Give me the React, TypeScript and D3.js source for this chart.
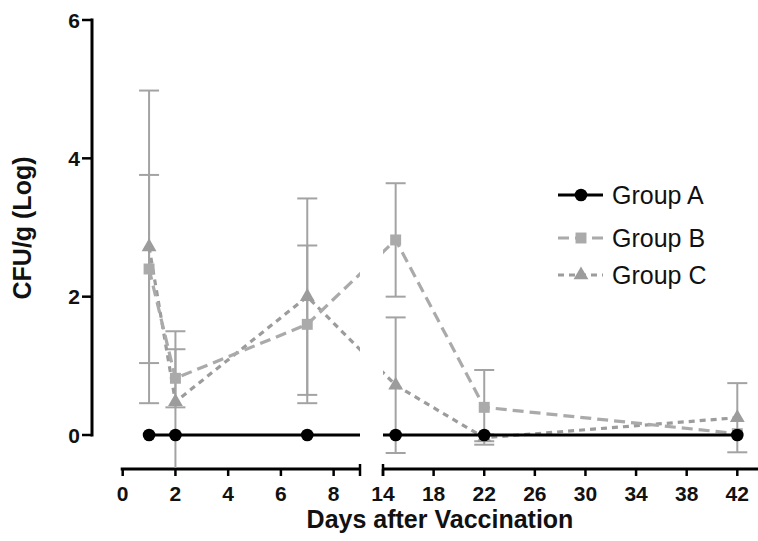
import React from 'react';
import * as d3 from 'd3';

// days sampled, split by the broken x axis
const days = [1, 2, 7, 15, 22, 42];
const groupA = [0, 0, 0, 0, 0, 0];
const groupB = [2.4, 0.82, 1.6, 2.82, 0.4, 0.02];
const groupBErr = [1.36, 0.42, 1.14, 0.82, 0.54, 0];
const groupC = [2.72, 0.48, 2.0, 0.72, -0.04, 0.25];
const groupCErr = [2.26, 1.02, 1.42, 0.98, 0.05, 0.5];
const yTicks = [0, 2, 4, 6];
const xTicksLeft = [0, 2, 4, 6, 8];
const xTicksRight = [14, 18, 22, 26, 30, 34, 38, 42];
const legendLabels = ['Group A', 'Group B', 'Group C'];

const W = 758;
const H = 541;
const font = '"Liberation Sans", Arial, Helvetica, sans-serif';

const y = d3.scaleLinear().domain([0, 6]).range([435, 20]);
const xLeft = d3.scaleLinear().domain([0, 9]).range([122.7, 360]);
const xRight = d3.scaleLinear().domain([14, 42]).range([383, 737.3]);
const rightEnd = 758;
const axisY = 469;

const xPos = (d: number) => (d <= 9 ? xLeft(d) : xRight(d));

const colorA = '#000';
const colorB = '#aaaaaa';
const colorC = '#9c9c9c';
const errColor = '#a3a3a3';

type Series = { name: string; values: number[]; err: number[] | null; color: string; dash: string | null; marker: string };

const series: Series[] = [
  { name: legendLabels[2], values: groupC, err: groupCErr, color: colorC, dash: '6,5', marker: 'triangle' },
  { name: legendLabels[1], values: groupB, err: groupBErr, color: colorB, dash: '11,6', marker: 'square' },
  { name: legendLabels[0], values: groupA, err: null, color: colorA, dash: null, marker: 'circle' },
];

function Marker({ kind, cx, cy, color }: { kind: string; cx: number; cy: number; color: string }) {
  const sym = kind === 'circle' ? d3.symbolCircle : kind === 'square' ? d3.symbolSquare : d3.symbolTriangle;
  const size = kind === 'circle' ? 125 : kind === 'square' ? 120 : 95;
  const path = d3.symbol().type(sym).size(size)() as string;
  return <path d={path} transform={`translate(${cx},${cy})`} fill={color} />;
}

export default function App() {
  const line = d3
    .line<number>()
    .x((_, i) => xPos(days[i]))
    .y((v) => y(v));

  return (
    <svg width={W} height={H} style={{ position: 'absolute', left: 0, top: 0, background: '#fff' }}>
      <defs>
        <clipPath id="clipLeft">
          <rect x={93} y={0} width={360 - 93} height={axisY - 1} />
        </clipPath>
        <clipPath id="clipRight">
          <rect x={383} y={0} width={rightEnd - 383} height={axisY - 1} />
        </clipPath>
      </defs>

      {/* y axis */}
      <line x1={92} x2={92} y1={y(6) - 1.5} y2={y(0) + 1.5} stroke="#000" strokeWidth={3} />
      {yTicks.map((t) => (
        <g key={t}>
          <line x1={82} x2={92} y1={y(t)} y2={y(t)} stroke="#000" strokeWidth={2.5} />
          <text x={80} y={y(t) + 7.5} textAnchor="end" fontFamily={font} fontWeight="bold" fontSize={21} fill="#111">
            {t}
          </text>
        </g>
      ))}
      <text
        transform={`translate(31,228) rotate(-90)`}
        textAnchor="middle"
        fontFamily={font}
        fontWeight="bold"
        fontSize={25}
        fill="#111"
      >
        CFU/g (Log)
      </text>

      {/* broken x axis */}
      <line x1={xLeft(0) - 2} x2={360} y1={axisY} y2={axisY} stroke="#000" strokeWidth={3} />
      <line x1={360} x2={360} y1={axisY - 5} y2={axisY + 7} stroke="#000" strokeWidth={2.5} />
      {xTicksLeft.map((t) => (
        <g key={'l' + t}>
          <line x1={xLeft(t)} x2={xLeft(t)} y1={axisY} y2={axisY + 7} stroke="#000" strokeWidth={2.5} />
          <text x={xLeft(t)} y={501} textAnchor="middle" fontFamily={font} fontWeight="bold" fontSize={21} fill="#111">
            {t}
          </text>
        </g>
      ))}
      <line x1={383} x2={rightEnd} y1={axisY} y2={axisY} stroke="#000" strokeWidth={3} />
      <line x1={383} x2={383} y1={axisY - 5} y2={axisY + 7} stroke="#000" strokeWidth={2.5} />
      {xTicksRight.map((t) => (
        <g key={'r' + t}>
          <line x1={xRight(t)} x2={xRight(t)} y1={axisY} y2={axisY + 7} stroke="#000" strokeWidth={2.5} />
          <text x={xRight(t)} y={501} textAnchor="middle" fontFamily={font} fontWeight="bold" fontSize={21} fill="#111">
            {t}
          </text>
        </g>
      ))}
      <text x={440} y={528} textAnchor="middle" fontFamily={font} fontWeight="bold" fontSize={25} fill="#111">
        Days after Vaccination
      </text>

      {['clipLeft', 'clipRight'].map((clip) => (
        <g key={clip} clipPath={`url(#${clip})`}>
          {/* error bars */}
          {series.map((s) =>
            s.err
              ? s.values.map((v, i) => {
                  const e = s.err![i];
                  if (!e) return null;
                  const cx = xPos(days[i]);
                  return (
                    <g key={s.name + i} stroke={errColor} strokeWidth={2}>
                      <line x1={cx} x2={cx} y1={y(v + e)} y2={y(v - e)} />
                      <line x1={cx - 10} x2={cx + 10} y1={y(v + e)} y2={y(v + e)} />
                      <line x1={cx - 10} x2={cx + 10} y1={y(v - e)} y2={y(v - e)} />
                    </g>
                  );
                })
              : null
          )}
          {series.map((s) => (
            <g key={s.name}>
              <path
                d={line(s.values) as string}
                fill="none"
                stroke={s.color}
                strokeWidth={3.2}
                strokeDasharray={s.dash ?? undefined}
              />
              {s.values.map((v, i) => (
                <Marker key={i} kind={s.marker} cx={xPos(days[i])} cy={y(v)} color={s.color} />
              ))}
            </g>
          ))}
        </g>
      ))}

      {/* legend */}
      {legendLabels.map((label, i) => {
        const s = series.find((d) => d.name === label)!;
        const ly = [195, 238, 275][i];
        return (
          <g key={label}>
            <line x1={558} x2={603} y1={ly} y2={ly} stroke={s.color} strokeWidth={3.2} strokeDasharray={s.dash ?? undefined} />
            <Marker kind={s.marker} cx={581} cy={ly} color={s.color} />
            <text x={612} y={ly + 9} fontFamily={font} fontSize={25} fill="#111">
              {label}
            </text>
          </g>
        );
      })}
    </svg>
  );
}
